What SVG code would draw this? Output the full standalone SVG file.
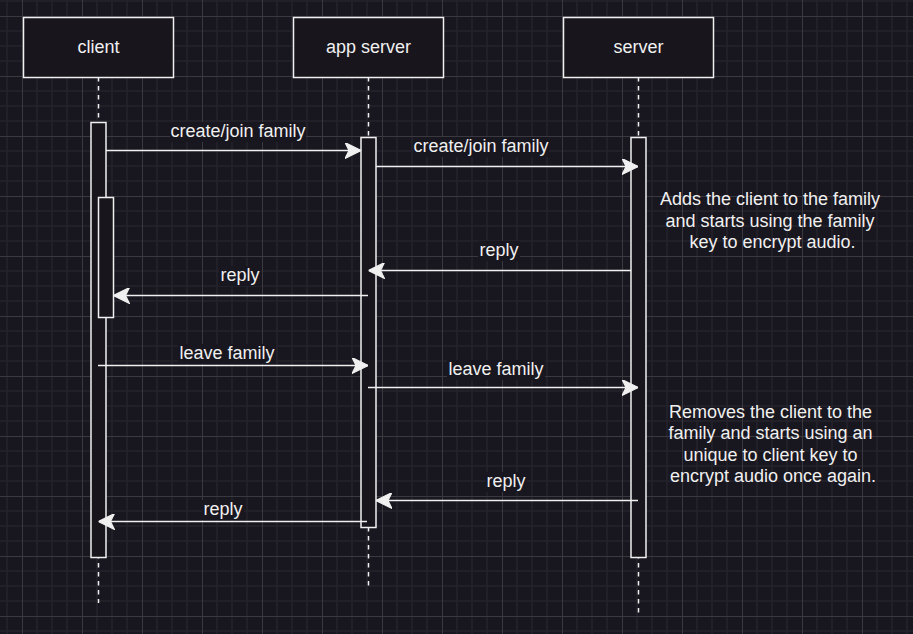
<svg xmlns="http://www.w3.org/2000/svg" width="913" height="634" viewBox="0 0 913 634">
  <style>
    .bg { fill: #18161e; }
    .box { fill: #18151d; stroke: #f0f0f0; stroke-width: 1.5; }
    .bar { fill: #18151d; stroke: #f0f0f0; stroke-width: 1.5; }
    .life { stroke: #f0f0f0; stroke-width: 1.5; stroke-dasharray: 4.5 4.5; fill: none; }
    .msg { stroke: #f0f0f0; stroke-width: 1.5; fill: none; marker-end: url(#arrow); }
    .t { font-family: "Liberation Sans", Arial, Helvetica, sans-serif; font-size: 18px; fill: #f0f0f0; text-anchor: middle; }
    .lbg { fill: #18161e; }
  </style>
  <defs>
    <pattern id="grid" patternUnits="userSpaceOnUse" x="22" y="16" width="60" height="60">
      <path d="M15 0V60M30 0V60M45 0V60M0 15H60M0 30H60M0 45H60" stroke="#24222a" stroke-width="1.5" fill="none"/>
      <path d="M0.5 0V60M0 0.5H60" stroke="#3a393f" stroke-width="1" fill="none"/>
    </pattern>
    <marker id="arrow" markerUnits="userSpaceOnUse" markerWidth="16" markerHeight="16" viewBox="0 0 14 14" refX="14" refY="7" orient="auto">
      <path d="M0 0L14 7L0 14L3.5 7Z" fill="#f0f0f0" stroke="#f0f0f0" stroke-width="1"/>
    </marker>
  </defs>
  <rect class="bg" x="0" y="0" width="913" height="634"/>
  <rect x="0" y="0" width="913" height="634" fill="url(#grid)"/>

  <g id="lifelines">
    <line class="life" x1="98.5" y1="77" x2="98.5" y2="603"/>
    <line class="life" x1="368.5" y1="77" x2="368.5" y2="586"/>
    <line class="life" x1="638.5" y1="77" x2="638.5" y2="613"/>
  </g>

  <g id="client">
    <rect class="box" x="23.5" y="17.5" width="150" height="60"/>
    <text class="t" x="98.5" y="53">client</text>
  </g>
  <g id="app-server">
    <rect class="box" x="293.5" y="17.5" width="150" height="60"/>
    <text class="t" x="368.5" y="53">app server</text>
  </g>
  <g id="server">
    <rect class="box" x="563.5" y="17.5" width="150" height="60"/>
    <text class="t" x="638.5" y="53">server</text>
  </g>

  <g id="activations">
    <rect id="client-act" class="bar" x="91" y="122.5" width="15" height="435"/>
    <rect id="client-act-nested" class="bar" x="98.5" y="197.5" width="15" height="120"/>
    <rect id="app-act" class="bar" x="361" y="137.5" width="15" height="390"/>
    <rect id="server-act" class="bar" x="631" y="137.5" width="15" height="420"/>
  </g>

  <g id="connectors">
    <line class="msg" x1="106" y1="150.5" x2="361" y2="150.5"/>
    <line class="msg" x1="376" y1="166.5" x2="638" y2="166.5"/>
    <line class="msg" x1="631" y1="270.5" x2="368.5" y2="270.5"/>
    <line class="msg" x1="368" y1="295.5" x2="113.5" y2="295.5"/>
    <line class="msg" x1="98" y1="365.5" x2="368" y2="365.5"/>
    <line class="msg" x1="368" y1="387.5" x2="638" y2="387.5"/>
    <line class="msg" x1="638" y1="500.5" x2="376" y2="500.5"/>
    <line class="msg" x1="367" y1="521.5" x2="98.5" y2="521.5"/>

    <rect class="lbg" x="170" y="122" width="136" height="20"/>
    <text class="t" x="238" y="137">create/join family</text>
    <rect class="lbg" x="413" y="137" width="136" height="20"/>
    <text class="t" x="481" y="152">create/join family</text>
    <rect class="lbg" x="478" y="241" width="42" height="20"/>
    <text class="t" x="499" y="256">reply</text>
    <rect class="lbg" x="219" y="266" width="42" height="20"/>
    <text class="t" x="240" y="281">reply</text>
    <rect class="lbg" x="178" y="344" width="98" height="20"/>
    <text class="t" x="227" y="359">leave family</text>
    <rect class="lbg" x="447" y="360" width="98" height="20"/>
    <text class="t" x="496" y="375">leave family</text>
    <rect class="lbg" x="485" y="472" width="42" height="20"/>
    <text class="t" x="506" y="487">reply</text>
    <rect class="lbg" x="202" y="500" width="42" height="20"/>
    <text class="t" x="223" y="515">reply</text>
  </g>

  <g id="note-join">
    <text class="t" x="772.5">
      <tspan x="772.5" y="205">Adds the client to the family</tspan>
      <tspan x="772.5" y="226.6">and starts using the family</tspan>
      <tspan x="772.5" y="248.2">key to encrypt audio.</tspan>
    </text>
  </g>
  <g id="note-leave">
    <text class="t" x="773">
      <tspan x="773" y="417.5">Removes the client to the</tspan>
      <tspan x="773" y="439">family and starts using an</tspan>
      <tspan x="773" y="460.5">unique to client key to</tspan>
      <tspan x="773" y="482">encrypt audio once again.</tspan>
    </text>
  </g>
</svg>
